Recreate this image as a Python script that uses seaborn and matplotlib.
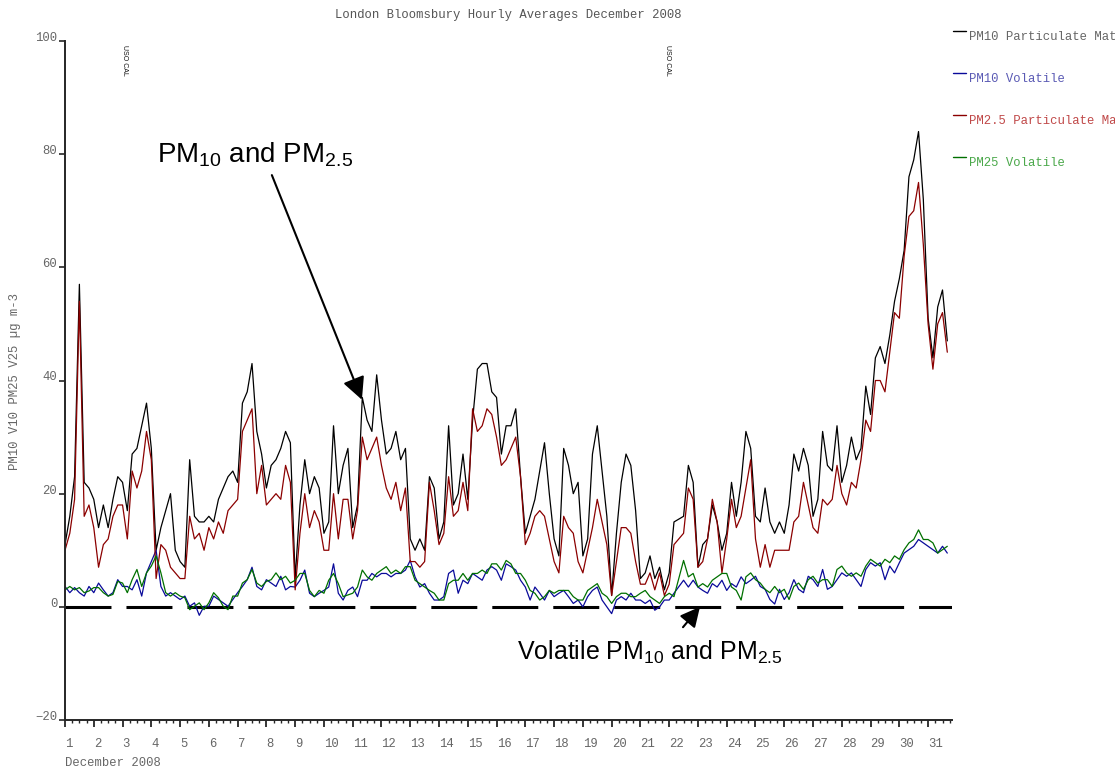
import numpy as np
import pandas as pd
import matplotlib
matplotlib.use("Agg")
import matplotlib.pyplot as plt
from matplotlib.lines import Line2D
from matplotlib.ticker import MultipleLocator
import seaborn as sns

nan = np.nan

# 4-hourly readings from 1 Dec 2008 00:00 (6 per day), ug m-3
pm10 = [
    11, 16, 23, 57, 22, 21,   # 1
    19, 14, 18, 14, 19, 23,   # 2
    22, 17, 27, 28, 32, 36,   # 3
    28, 10, 14, 17, 20, 10,   # 4
    8, 7, 26, 16, 15, 15,     # 5
    16, 15, 19, 21, 23, 24,   # 6
    22, 36, 38, 43, 31, 27,   # 7
    21, 25, 26, 28, 31, 29,   # 8
    5, 18, 26, 20, 23, 21,    # 9
    13, 15, 32, 20, 25, 28,   # 10
    14, 18, 37, 33, 31, 41,   # 11
    33, 27, 28, 31, 26, 28,   # 12
    12, 10, 12, 10, 23, 21,   # 13
    12, 15, 32, 18, 20, 27,   # 14
    19, 33, 42, 43, 43, 38,   # 15
    37, 27, 32, 32, 35, 23,   # 16
    13, 16, 19, 24, 29, 20,   # 17
    12, 9, 28, 25, 20, 22,    # 18
    9, 12, 27, 32, 24, 16,    # 19
    2, 13, 22, 27, 25, 17,    # 20
    5, 6, 9, 5, 7, 3,         # 21
    6, 15, nan, 16, 25, 22,   # 22
    7, 11, 12, 18, 15, 10,    # 23
    13, 22, 16, 22, 31, 28,   # 24
    16, 15, 21, 15, 13, 15,   # 25
    13, 18, 27, 24, 28, 25,   # 26
    16, 19, 31, 25, 24, 32,   # 27
    22, 25, 30, 26, 28, 39,   # 28
    34, 44, 46, 43, 48, 54,   # 29
    58, 63, 76, 79, 84, 72,   # 30
    51, 44, 53, 56, 47,       # 31
]

pm25 = [
    10, 13, 19, 54, 16, 18,
    14, 7, 11, 12, 16, 18,
    18, 12, 24, 21, 24, 31,
    26, 5, 11, 10, 7, 6,
    5, 5, 16, 12, 13, 10,
    14, 12, 15, 13, 17, 18,
    19, 31, 33, 35, 20, 25,
    18, 19, 20, 19, 25, 22,
    3, 13, 20, 14, 17, 15,
    10, 10, 20, 12, 19, 19,
    12, 17, 30, 26, 28, 30,
    25, 21, 19, 22, 17, 21,
    8, 8, 7, 8, 22, 17,
    11, 13, 23, 16, 17, 22,
    17, 35, 31, 32, 35, 34,
    30, 25, 26, 28, 30, 23,
    11, 13, 16, 17, 16, 12,
    8, 6, 16, 14, 13, 8,
    6, 10, 14, 19, 15, 11,
    2, 8, 14, 14, 13, 8,
    4, 4, 6, 3, 6, 2,
    4, 11, nan, 13, 21, 19,
    7, 8, 12, 19, 15, 6,
    12, 19, 14, 16, 21, 26,
    12, 7, 11, 7, 10, 10,
    10, 10, 15, 16, 22, 18,
    14, 13, 19, 18, 19, 25,
    20, 18, 22, 21, 26, 33,
    31, 40, 40, 38, 45, 52,
    51, 62, 69, 70, 75, 64,
    50, 42, 50, 52, 45,
]

v10 = [
    3.6, 2.5, 3.4, 2.5, 1.9, 3.6,
    2.5, 4.2, 3.0, 1.9, 2.5, 4.8,
    3.6, 3.6, 3.0, 4.8, 1.9, 6.0,
    8.0, 10.0, 3.6, 1.9, 2.5, 1.9,
    1.3, 1.9, 0.1, 0.7, -1.5, 0.1,
    0.1, 1.9, 1.3, 0.7, 0.1, 1.3,
    2.5, 3.6, 4.8, 7.0, 3.6, 3.0,
    4.8, 4.2, 3.6, 5.4, 3.0, 3.6,
    3.5, 4.7, 6.5, 2.4, 1.8, 2.4,
    2.9, 3.5, 7.6, 2.4, 1.2, 2.9,
    3.5, 1.8, 4.7, 4.7, 5.9, 5.3,
    5.9, 5.9, 5.3, 5.9, 5.9, 6.5,
    8.2, 5.3, 3.5, 4.1, 2.4, 1.2,
    1.2, 1.8, 5.9, 6.5, 2.4, 4.7,
    4.1, 5.9, 5.3, 4.7, 6.5, 7.1,
    6.5, 4.7, 7.6, 7.1, 6.5, 4.7,
    3.5, 1.2, 3.5, 2.4, 1.2, 2.9,
    1.8, 2.4, 2.9, 1.8, 0.6, 1.2,
    0.0, 1.8, 2.9, 3.5, 1.2, 0.0,
    -1.2, 1.2, 1.8, 1.2, 2.4, 1.2,
    1.2, 0.6, 1.2, -0.6, 0.0, 1.2,
    1.2, 2.4, nan, 4.7, 3.5, 4.7,
    3.5, 2.9, 2.4, 4.1, 3.5, 4.7,
    2.9, 4.1, 3.5, 5.3, 4.1, 4.7,
    5.4, 3.6, 3.1, 1.3, 0.5, 3.1,
    1.3, 2.5, 4.8, 3.1, 2.5, 5.4,
    4.8, 3.6, 6.6, 3.1, 3.6, 4.8,
    6.0, 5.4, 6.0, 4.8, 3.6, 6.6,
    7.8, 7.2, 7.8, 4.8, 7.2, 6.0,
    7.8, 9.5, 10.1, 10.7, 11.9, 11.3,
    10.7, 10.1, 9.5, 10.7, 9.5,
]

v25 = [
    3.0, 3.6, 3.0, 3.4, 2.5, 2.8,
    3.4, 3.4, 2.5, 1.9, 2.2, 4.5,
    4.2, 2.5, 4.8, 6.6, 3.6, 6.0,
    7.2, 9.0, 6.0, 2.5, 1.9, 2.5,
    1.9, 1.6, -0.5, 0.1, 0.7, -0.5,
    0.7, 2.5, 1.6, 0.1, -0.5, 1.9,
    1.9, 4.2, 4.8, 6.6, 4.2, 3.6,
    4.5, 4.8, 6.0, 4.8, 5.4, 4.2,
    4.7, 5.9, 5.9, 2.9, 1.8, 2.9,
    2.4, 4.7, 5.9, 4.1, 1.8, 2.1,
    2.4, 3.5, 6.5, 5.3, 4.7, 5.9,
    6.5, 7.1, 5.9, 6.5, 5.9, 7.1,
    7.1, 4.7, 4.1, 3.5, 2.9, 2.4,
    1.2, 1.2, 4.1, 4.7, 4.7, 5.9,
    4.7, 5.9, 5.9, 6.5, 5.9, 7.6,
    7.6, 6.5, 8.2, 7.6, 5.9, 5.9,
    4.7, 2.9, 2.4, 1.2, 1.8, 2.9,
    2.4, 2.9, 2.9, 2.9, 1.8, 1.2,
    1.2, 2.9, 3.5, 4.1, 2.4, 1.8,
    0.6, 1.8, 2.4, 2.4, 1.8, 1.8,
    2.4, 2.9, 1.8, 1.2, 0.6, 1.8,
    2.4, 1.8, nan, 8.2, 5.3, 5.9,
    3.5, 4.1, 3.5, 4.7, 5.3, 5.9,
    5.9, 3.5, 2.9, 1.2, 5.3, 6.0,
    4.8, 4.2, 3.1, 2.5, 3.6, 2.5,
    3.1, 1.3, 3.6, 4.2, 3.1, 4.8,
    5.4, 4.2, 4.8, 4.8, 3.6, 6.6,
    7.2, 6.0, 5.4, 6.0, 5.4, 7.2,
    8.4, 7.8, 7.2, 8.4, 7.8, 9.0,
    8.4, 10.1, 11.3, 11.9, 13.6, 11.9,
    11.9, 11.3, 9.5, 10.1, 10.7,
]

series_names = ["PM10 Particulate Matter", "PM10 Volatile",
                "PM2.5 Particulate Matter", "PM25 Volatile"]
line_colors = ["#000000", "#0a0a9a", "#8b0000", "#007000"]
text_colors = ["#666666", "#5a5ab4", "#c04848", "#4aa84a"]
day_ticks = list(range(1, 32))
cal_days = [3.08, 21.94]

step_hours = 4
day = 1 + np.arange(len(pm10)) * step_hours / 24.0

df = pd.concat([
    pd.DataFrame({"day": day, "value": vals, "series": name})
    for name, vals in zip(series_names, [pm10, v10, pm25, v25])
], ignore_index=True)

sns.set_style("ticks")
plt.rcParams["font.family"] = ["Liberation Mono", "DejaVu Sans"]
plt.rcParams["mathtext.fontset"] = "custom"
plt.rcParams["mathtext.rm"] = "Liberation Sans"
plt.rcParams["mathtext.default"] = "rm"

W, H = 1115, 768
fig = plt.figure(figsize=(W / 100, H / 100), dpi=100)
ax = fig.add_axes([65 / W, 1 - 720 / H, 887 / W, 679 / H])

sns.lineplot(data=df, x="day", y="value", hue="series", hue_order=series_names,
             palette=dict(zip(series_names, line_colors)), estimator=None,
             sort=False, legend=False, lw=0.9, ax=ax)

# dashed zero line
lw0 = 2.2
ax.axhline(0, color="black", lw=lw0, linestyle=(0, (33.1 / lw0, 10.8 / lw0)),
           zorder=1)

ax.set_xlim(1, 31.83)
ax.set_ylim(-20, 100)
ax.set_xlabel("")
ax.set_ylabel("")
sns.despine(ax=ax)
for s in ["left", "bottom"]:
    ax.spines[s].set_linewidth(1.4)

ax.set_xticks(day_ticks)
ax.set_xticklabels([str(d) for d in day_ticks], ha="left")
ax.xaxis.set_minor_locator(MultipleLocator(0.25))
ax.set_yticks([-20, 0, 20, 40, 60, 80, 100])
ax.tick_params(axis="x", which="major", length=5, width=1.3, pad=8,
               labelsize=8.8, labelcolor="#666666")
ax.tick_params(axis="x", which="minor", length=2.5, width=1.0)
ax.tick_params(axis="y", length=4, width=1.2, pad=1.5,
               labelsize=8.8, labelcolor="#666666")
for lab in ax.get_yticklabels():
    lab.set_va("baseline")

fig.text(508 / W, 1 - 15 / H, "London Bloomsbury Hourly Averages December 2008",
         ha="center", va="center", fontsize=8.8, color="#555555")
fig.text(15 / W, 1 - 382 / H, "PM10 V10 PM25 V25 \u00b5g m-3", rotation=90,
         ha="center", va="center", fontsize=8.8, color="#666666")
fig.text(65 / W, 1 - 763 / H, "December 2008", ha="left", va="center",
         fontsize=8.8, color="#666666")

# calibration markers
for d in cal_days:
    ax.text(d, 99.3, "USO CAL", rotation=270, ha="center", va="top",
            fontsize=5, family="Liberation Sans", color="#111111")

# annotations
ax.annotate("", xy=(11.32, 36.6), xytext=(8.19, 76.3),
            arrowprops=dict(arrowstyle="-|>", mutation_scale=34, lw=1.5,
                            color="black", shrinkA=0, shrinkB=0))
ax.text(4.2, 77.3, "PM$_{10}$ and PM$_{2.5}$", ha="left", va="bottom",
        fontsize=20, family="Liberation Sans", color="black")
ax.annotate("", xy=(23.07, 0.0), xytext=(22.48, -3.6),
            arrowprops=dict(arrowstyle="-|>", mutation_scale=30, lw=1.5,
                            color="black", shrinkA=0, shrinkB=0))
ax.text(16.71, -10.4, "Volatile PM$_{10}$ and PM$_{2.5}$", ha="left",
        va="bottom", fontsize=18, family="Liberation Sans", color="black")

# legend at the right edge (cut by the figure edge, as in the original)
for i, (name, lc, tc) in enumerate(zip(series_names, line_colors, text_colors)):
    yl = 31 + 42 * i
    fig.add_artist(Line2D([953 / W, 966 / W], [1 - yl / H, 1 - yl / H],
                          color=lc, lw=1.0, transform=fig.transFigure))
    fig.text(969 / W, 1 - (yl + 6) / H, name, ha="left", va="center",
             fontsize=8.8, color=tc)

fig.savefig("out.png", dpi=100)
